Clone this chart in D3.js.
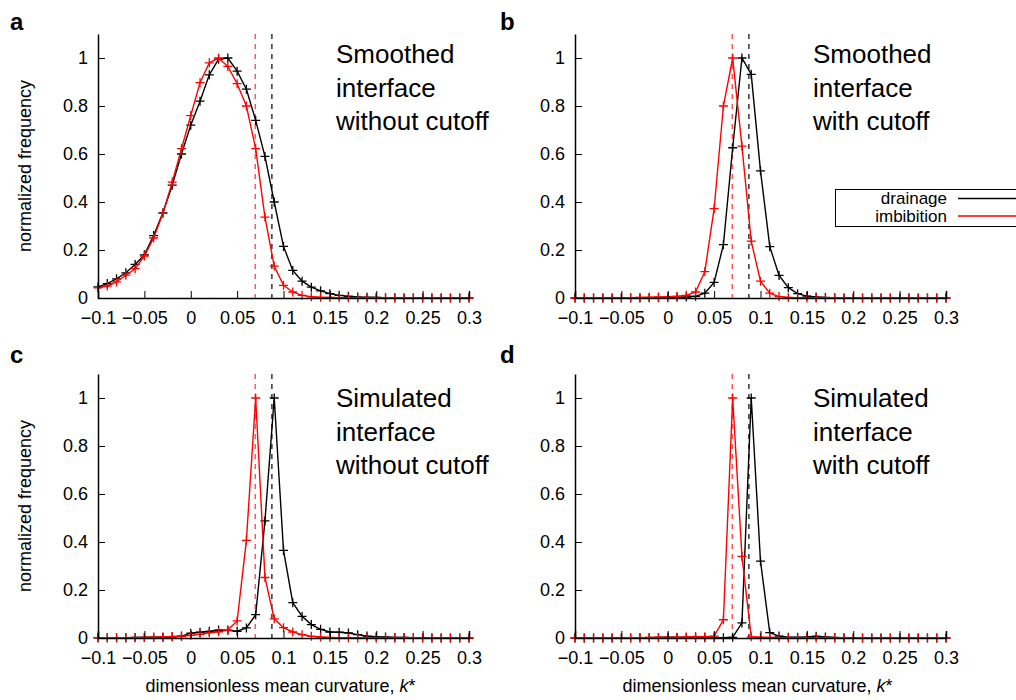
<!DOCTYPE html>
<html>
<head>
<meta charset="utf-8">
<script src="https://cdn.jsdelivr.net/npm/d3@7"></script>
<style>
  body { margin: 0; background: #fff; }
  svg { display: block; font-family: "Liberation Sans", Arial, sans-serif; }
</style>
</head>
<body>
<div id="chart"></div>
<script>
const width = 1016;
const height = 700;

// bin centres of the curvature histograms
const kValues = [
    -0.1, -0.09, -0.08, -0.07, -0.06, -0.05, -0.04, -0.03, -0.02, -0.01,
    0, 0.01, 0.02, 0.03, 0.04, 0.05, 0.06, 0.07, 0.08, 0.09,
    0.1, 0.11, 0.12, 0.13, 0.14, 0.15, 0.16, 0.17, 0.18, 0.19,
    0.2, 0.21, 0.22, 0.23, 0.24, 0.25, 0.26, 0.27, 0.28, 0.29, 0.3
];

const xTicks = [-0.1, -0.05, 0, 0.05, 0.1, 0.15, 0.2, 0.25, 0.3];
const yTicks = [0, 0.2, 0.4, 0.6, 0.8, 1];

// mean curvature markers (dashed lines)
const meanDrainage = 0.0875;
const meanImbibition = 0.0695;

const smoothNoCutDrain = [
    0.046, 0.06, 0.08, 0.105, 0.14, 0.18, 0.26, 0.355, 0.47, 0.6,
    0.72, 0.82, 0.93, 0.995, 1.0, 0.945, 0.87, 0.74, 0.59, 0.40,
    0.215, 0.115, 0.07, 0.045, 0.03, 0.018, 0.011, 0.007, 0.004, 0.003,
    0.002, 0.001, 0.001, 0, 0, 0, 0, 0, 0, 0, 0
];
const smoothNoCutImb = [
    0.042, 0.05, 0.067, 0.095, 0.122, 0.175, 0.25, 0.353, 0.483, 0.622,
    0.76, 0.897, 0.98, 1.0, 0.965, 0.893, 0.8, 0.622, 0.337, 0.133,
    0.053, 0.025, 0.011, 0.005, 0.003, 0.002, 0.001, 0.001, 0, 0,
    0, 0, 0, 0, 0, 0, 0, 0, 0, 0, 0
];

const smoothCutDrain = [
    0, 0, 0, 0, 0, 0, 0, 0, 0.001, 0.001,
    0.002, 0.003, 0.004, 0.007, 0.02, 0.065, 0.222, 0.626, 1.0, 0.932,
    0.53, 0.214, 0.094, 0.043, 0.018, 0.008, 0.004, 0.002, 0.001, 0,
    0, 0, 0, 0, 0, 0, 0, 0, 0, 0, 0
];
const smoothCutImb = [
    0, 0, 0, 0, 0, 0, 0.001, 0.002, 0.003, 0.004,
    0.005, 0.007, 0.011, 0.025, 0.11, 0.372, 0.8, 1.0, 0.633, 0.237,
    0.07, 0.02, 0.006, 0.002, 0.001, 0, 0, 0, 0, 0,
    0, 0, 0, 0, 0, 0, 0, 0, 0, 0, 0
];

const simNoCutDrain = [
    0.001, 0.001, 0.001, 0.001, 0.002, 0.002, 0.003, 0.003, 0.005, 0.008,
    0.02, 0.024, 0.028, 0.033, 0.032, 0.028, 0.042, 0.097, 0.488, 1.0,
    0.365, 0.147, 0.09, 0.056, 0.036, 0.025, 0.024, 0.021, 0.014, 0.008,
    0.005, 0.004, 0.002, 0.002, 0.001, 0.001, 0, 0, 0, 0, 0
];
const simNoCutImb = [
    0.001, 0.001, 0.001, 0.001, 0.001, 0.002, 0.003, 0.004, 0.006, 0.006,
    0.011, 0.015, 0.022, 0.026, 0.033, 0.071, 0.407, 1.0, 0.252, 0.08,
    0.043, 0.025, 0.014, 0.007, 0.004, 0.002, 0.001, 0.001, 0, 0,
    0, 0, 0, 0, 0, 0, 0, 0, 0, 0, 0
];

const simCutDrain = [
    0, 0, 0, 0, 0, 0, 0, 0.001, 0.001, 0.002,
    0.003, 0.002, 0.002, 0.001, 0.001, 0.001, 0.001, 0.003, 0.063, 1.0,
    0.32, 0.022, 0.008, 0.003, 0.003, 0.004, 0.007, 0.004, 0.002, 0.001,
    0, 0, 0, 0, 0, 0, 0, 0, 0, 0, 0
];
const simCutImb = [
    0, 0, 0, 0, 0, 0, 0.001, 0.001, 0.002, 0.002,
    0.002, 0.003, 0.004, 0.006, 0.005, 0.008, 0.076, 1.0, 0.34, 0.005,
    0.003, 0.002, 0.001, 0, 0, 0, 0, 0, 0, 0,
    0, 0, 0, 0, 0, 0, 0, 0, 0, 0, 0
];

const panels = [
    { letter: "a", title: ["Smoothed", "interface", "without cutoff"], drain: smoothNoCutDrain, imb: smoothNoCutImb, col: 0, row: 0 },
    { letter: "b", title: ["Smoothed", "interface", "with cutoff"], drain: smoothCutDrain, imb: smoothCutImb, col: 1, row: 0 },
    { letter: "c", title: ["Simulated", "interface", "without cutoff"], drain: simNoCutDrain, imb: simNoCutImb, col: 0, row: 1 },
    { letter: "d", title: ["Simulated", "interface", "with cutoff"], drain: simCutDrain, imb: simCutImb, col: 1, row: 1 }
];

const plotW = 371;
const plotH = 264;
const colX = [98, 575];
const rowY = [34, 374];
const titleShift = [29, 33];

const svg = d3.select("#chart").append("svg")
    .attr("width", width)
    .attr("height", height);

const x = d3.scaleLinear().domain([-0.1, 0.3]).range([0, plotW]);
const y = d3.scaleLinear().domain([0, 1.1]).range([plotH, 0]);
const fmt = d3.format("~g");

const line = d3.line()
    .x((d, i) => x(kValues[i]))
    .y(d => y(d));

function crosses(g, values, color) {
    g.selectAll(null)
        .data(values)
        .join("path")
        .attr("d", (d, i) => {
            const cx = x(kValues[i]), cy = y(d);
            return `M${cx - 4.5},${cy}H${cx + 4.5}M${cx},${cy - 4.5}V${cy + 4.5}`;
        })
        .attr("stroke", color)
        .attr("stroke-width", 1.3);
}

panels.forEach(p => {
    const ox = colX[p.col];
    const oy = rowY[p.row];
    const g = svg.append("g").attr("transform", `translate(${ox},${oy})`);

    // dashed mean lines
    g.append("line")
        .attr("x1", x(meanImbibition)).attr("x2", x(meanImbibition))
        .attr("y1", 0).attr("y2", plotH)
        .attr("stroke", "#f33").attr("stroke-width", 1.2)
        .attr("stroke-dasharray", "5,5");
    g.append("line")
        .attr("x1", x(meanDrainage)).attr("x2", x(meanDrainage))
        .attr("y1", 0).attr("y2", plotH)
        .attr("stroke", "#000").attr("stroke-width", 1.2)
        .attr("stroke-dasharray", "5,5");

    g.append("path").datum(p.drain)
        .attr("d", line).attr("fill", "none")
        .attr("stroke", "#000").attr("stroke-width", 1.4);
    crosses(g.append("g"), p.drain, "#000");

    g.append("path").datum(p.imb)
        .attr("d", line).attr("fill", "none")
        .attr("stroke", "#f00").attr("stroke-width", 1.4);
    crosses(g.append("g"), p.imb, "#f00");

    const xAxis = g.append("g")
        .attr("transform", `translate(0,${plotH})`)
        .call(d3.axisBottom(x).tickValues(xTicks).tickFormat(fmt).tickSize(-7).tickPadding(13));
    const yAxis = g.append("g")
        .call(d3.axisLeft(y).tickValues(yTicks).tickFormat(fmt).tickSize(-7).tickSizeOuter(0).tickPadding(10));

    [xAxis, yAxis].forEach(a => {
        a.select(".domain").attr("stroke", "#000").attr("stroke-width", 1.5);
        a.selectAll(".tick line").attr("stroke", "#000").attr("stroke-width", 1);
        a.selectAll(".tick text")
            .attr("fill", "#000")
            .style("font-size", "18px")
            .style("font-family", "'Liberation Sans', Arial, sans-serif");
    });

    g.append("text")
        .attr("x", 238)
        .attr("y", titleShift[p.row])
        .style("font-size", "26px")
        .attr("fill", "#000")
        .selectAll("tspan")
        .data(p.title)
        .join("tspan")
        .attr("x", 238)
        .attr("dy", (d, i) => i === 0 ? 0 : 33.5)
        .text(d => d);

    svg.append("text")
        .attr("x", p.col === 0 ? 10 : 500)
        .attr("y", p.row === 0 ? 30 : 363)
        .style("font-size", "24px")
        .style("font-weight", "bold")
        .text(p.letter);

    if (p.col === 0) {
        svg.append("text")
            .attr("transform", `translate(31,${oy + plotH / 2}) rotate(-90)`)
            .attr("text-anchor", "middle")
            .style("font-size", "18px")
            .text("normalized frequency");
    }

    if (p.row === 1) {
        const lbl = svg.append("text")
            .attr("x", ox + plotW / 2 - 3)
            .attr("y", 692)
            .attr("text-anchor", "middle")
            .style("font-size", "18px");
        lbl.append("tspan").text("dimensionless mean curvature, ");
        lbl.append("tspan").style("font-style", "italic").text("k");
        lbl.append("tspan").text("*");
    }
});

// legend
const legend = svg.append("g");
legend.append("rect")
    .attr("x", 835.5).attr("y", 189.5)
    .attr("width", 200).attr("height", 37)
    .attr("fill", "#fff").attr("stroke", "#000").attr("stroke-width", 1);

const legendItems = [
    { label: "drainage", color: "#000" },
    { label: "imbibition", color: "#f00" }
];
legendItems.forEach((d, i) => {
    legend.append("text")
        .attr("x", 947)
        .attr("y", 204 + i * 18)
        .attr("text-anchor", "end")
        .style("font-size", "17px")
        .text(d.label);
    legend.append("line")
        .attr("x1", 958).attr("x2", 1020)
        .attr("y1", 198.5 + i * 17.5).attr("y2", 198.5 + i * 17.5)
        .attr("stroke", d.color).attr("stroke-width", 1.4);
});
</script>
</body>
</html>
